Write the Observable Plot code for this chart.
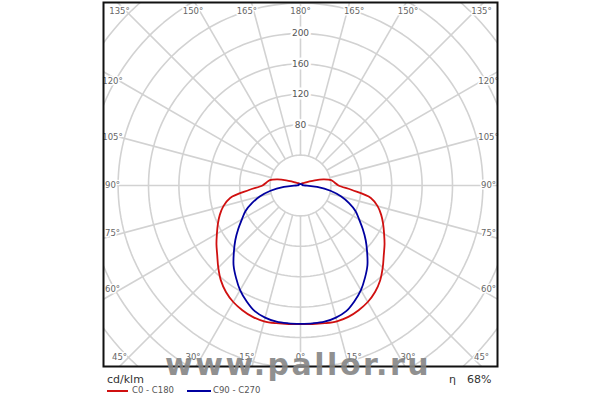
<!DOCTYPE html>
<html>
<head>
<meta charset="utf-8">
<script src="https://cdn.jsdelivr.net/npm/d3@7"></script>
<script src="https://cdn.jsdelivr.net/npm/@observablehq/plot@0.6"></script>
<style>
  body { margin: 0; background: #fff; }
  #wrap { position: relative; width: 600px; height: 400px; overflow: hidden; font-family: "DejaVu Sans", sans-serif; }
  #chart { position: absolute; left: 0; top: 0; }
  .lg { position: absolute; white-space: nowrap; color: #333; }
  .sw { position: absolute; height: 0; border-top: 2px solid; }
  #wm { position: absolute; left: 165px; top: 350px; font-family: "DejaVu Sans", sans-serif; font-weight: bold; font-size: 30px; letter-spacing: 2.5px; line-height: 1; color: #858585; opacity: 0.9; white-space: nowrap; }
</style>
</head>
<body>
<div id="wrap">
  <div id="chart"></div>
  <div class="lg" style="left:107px;top:373px;font-size:11px;">cd/klm</div>
  <div class="sw" style="left:107px;top:390px;width:21px;border-color:#d01010;"></div>
  <div class="lg" style="left:132px;top:385px;font-size:8.5px;color:#555;">C0 - C180</div>
  <div class="sw" style="left:187px;top:390px;width:24px;border-color:#0000a0;"></div>
  <div class="lg" style="left:213px;top:385px;font-size:8.5px;color:#555;">C90 - C270</div>
  <div class="lg" style="left:449px;top:373px;font-size:11px;">η</div>
  <div class="lg" style="left:467px;top:373px;font-size:11px;">68%</div>
  <div id="wm">www.pallor.ru</div>
</div>
<script>
// ---- data (cd/klm), gamma angle measured from nadir (0°) to zenith (180°)
const gammaDeg = [0,5,10,15,20,25,30,35,40,45,50,55,60,65,70,75,80,85,90,95,100,105,110,115,120,130,140,150,165,180];
const c0c180   = [182,183,184,185,184,181,177,171,163,153,143,135,127,120,113,105,94,68,50,45,41,31,20,12,8,5,4,3,2,2];
const c90c270  = [182,182,182,180,176,168,159,148,137,124,112,100,89,80,68,55,40,22,6,3,3,3,3,3,3,2,2,2,2,2];

const ringValues = [40,80,120,160,200,240,280,320,360];
const ringLabels = [80,120,160,200];
const spokeAngles = [0,15,30,45,60,75,90,105,120,135,150,165,180,195,210,225,240,255,270,285,300,315,330,345];

const topAngles = [-45,-30,-15,0,15,30,45];
const topLabels = ["135°","150°","165°","180°","165°","150°","135°"];
const bottomAngles = [-45,-30,-15,0,15,30,45];
const bottomLabels = ["45°","30°","15°","0°","15°","30°","45°"];
const sideAngles = [30,15,0,-15,-30];
const sideLabels = ["120°","105°","90°","75°","60°"];

// ---- geometry helpers
const K = 0.76; // px per cd/klm
const rad = d => d * Math.PI / 180;

function polarCurve(values) {
  const pts = [];
  gammaDeg.forEach((g, i) => pts.push({x: -values[i] * Math.sin(rad(g)), y: -values[i] * Math.cos(rad(g))}));
  for (let i = gammaDeg.length - 2; i >= 0; i--) {
    const g = gammaDeg[i];
    pts.push({x: values[i] * Math.sin(rad(g)), y: -values[i] * Math.cos(rad(g))});
  }
  return pts;
}

const ringPts = [];
ringValues.forEach(r => {
  for (let a = 0; a <= 360; a += 2) ringPts.push({r, x: r * Math.sin(rad(a)), y: r * Math.cos(rad(a))});
});
const spokes = spokeAngles.map(a => ({
  x1: 40 * Math.sin(rad(a)), y1: 40 * Math.cos(rad(a)),
  x2: 420 * Math.sin(rad(a)), y2: 420 * Math.cos(rad(a))
}));

const angLabels = [];
topAngles.forEach((a, i) => angLabels.push({
  x: (174 * Math.tan(rad(a)) + Math.sign(a) * 7) / K, y: 174 / K, t: topLabels[i]}));
bottomAngles.forEach((a, i) => angLabels.push({
  x: (174 * Math.tan(rad(a)) + Math.sign(a) * 7) / K, y: -172 / K, t: bottomLabels[i]}));
sideAngles.forEach((b, i) => {
  angLabels.push({x: -188 / K, y: 180 * Math.tan(rad(b)) / K, t: sideLabels[i]});
  angLabels.push({x: 188 / K, y: 180 * Math.tan(rad(b)) / K, t: sideLabels[i]});
});

const gridColor = "#d2d2d2";

const plot = Plot.plot({
  width: 600,
  height: 368,
  marginLeft: 103, marginRight: 103, marginTop: 2, marginBottom: 2,
  style: {fontFamily: "DejaVu Sans, sans-serif", background: "white"},
  x: {domain: [-197 / K, 197 / K], axis: null},
  y: {domain: [-181 / K, 183 / K], axis: null},
  marks: [
    Plot.line(ringPts, {x: "x", y: "y", z: "r", stroke: gridColor, strokeWidth: 1.6, clip: true}),
    Plot.link(spokes, {x1: "x1", y1: "y1", x2: "x2", y2: "y2", stroke: gridColor, strokeWidth: 1.6, clip: true}),
    Plot.text(ringLabels, {x: 0, y: d => d, text: d => String(d), fill: "#555", fontSize: 9, stroke: "white", strokeWidth: 5}),
    Plot.text(angLabels, {x: "x", y: "y", text: "t", fill: "#666", fontSize: 8.5, stroke: "white", strokeWidth: 3}),
    Plot.line(polarCurve(c0c180), {x: "x", y: "y", stroke: "#d01010", strokeWidth: 1.8, curve: "catmull-rom"}),
    Plot.line(polarCurve(c90c270), {x: "x", y: "y", stroke: "#0000a0", strokeWidth: 1.8, curve: "catmull-rom"}),
    Plot.frame({stroke: "#111", strokeWidth: 2})
  ]
});
document.getElementById("chart").appendChild(plot);
</script>
</body>
</html>
